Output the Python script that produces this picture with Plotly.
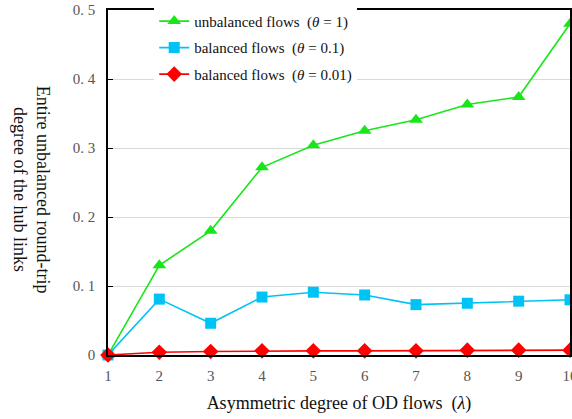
import plotly.graph_objects as go

lam = [1, 2, 3, 4, 5, 6, 7, 8, 9, 10]
unbalanced_1 = [0.0, 0.13, 0.18, 0.272, 0.304, 0.325, 0.341, 0.363, 0.374, 0.48]
balanced_01 = [0.0, 0.081, 0.046, 0.084, 0.091, 0.087, 0.073, 0.075, 0.078, 0.080]
balanced_001 = [0.0, 0.004, 0.005, 0.006, 0.006, 0.006, 0.006, 0.007, 0.007, 0.007]

y_tickvals = [0, 0.1, 0.2, 0.3, 0.4, 0.5]
y_ticktext = ["0", "0.\u00a01", "0.\u00a02", "0.\u00a03", "0.\u00a04", "0.\u00a05"]
x_tickvals = lam
x_ticktext = [str(v) for v in lam]

series = [
    ("unbalanced flows  (<i>θ</i> = 1)", unbalanced_1, "#19e619", "triangle-up", 12),
    ("balanced flows  (<i>θ</i> = 0.1)", balanced_01, "#00c3f5", "square", 11),
    ("balanced flows  (<i>θ</i> = 0.01)", balanced_001, "#ff0000", "diamond", 12),
]

fig = go.Figure()
for i, (name, vals, col, sym, sz) in enumerate(series):
    fig.add_trace(go.Scatter(
        x=lam, y=vals, name=name, mode="lines+markers",
        line=dict(color=col, width=1.6),
        marker=dict(symbol=sym, size=sz, color=col),
        cliponaxis=False, legendgroup=str(i),
    ))

fig.update_layout(
    width=572, height=419,
    margin=dict(l=108, r=2, t=10, b=64),
    paper_bgcolor="white", plot_bgcolor="white",
    font=dict(family="Liberation Serif", color="#222"),
    showlegend=True,
    legend=dict(
        x=0.1, y=1.015, xanchor="left", yanchor="top",
        bgcolor="white", borderwidth=0,
        font=dict(size=15, family="Liberation Serif", color="#111"),
        tracegroupgap=4, traceorder="grouped", itemwidth=30,
    ),
    xaxis=dict(
        range=[1, 10], tickvals=x_tickvals, ticktext=x_ticktext,
        showline=True, linecolor="black", linewidth=1.5, mirror=True,
        showgrid=False, zeroline=False, ticks="", automargin=False,
        ticklabeloverflow="allow", ticklabelstandoff=6,
        tickfont=dict(size=15, color="#555", family="Liberation Serif"),
        title=dict(text="Asymmetric degree of OD flows  (<i>λ</i>)",
                   font=dict(size=18, color="#111"), standoff=14),
    ),
    yaxis=dict(
        range=[0, 0.5], tickvals=y_tickvals, ticktext=y_ticktext,
        showline=True, linecolor="black", linewidth=1.5, mirror=True,
        showgrid=True, gridcolor="#d9d9d9", gridwidth=1, zeroline=False,
        ticks="inside", ticklen=5, tickcolor="black", automargin=False,
        ticklabelstandoff=8,
        tickfont=dict(size=15, color="#555", family="Liberation Serif"),
    ),
    annotations=[dict(
        text="Entire unbalanced round-trip<br>degree of the hub links",
        xref="paper", yref="paper", x=-0.165, y=0.48,
        xanchor="center", yanchor="middle", textangle=90,
        showarrow=False, font=dict(size=18, color="#111", family="Liberation Serif"),
    )],
)

fig.write_html("out.html", config={"displayModeBar": False},
               post_script="document.body.style.margin='0';")
